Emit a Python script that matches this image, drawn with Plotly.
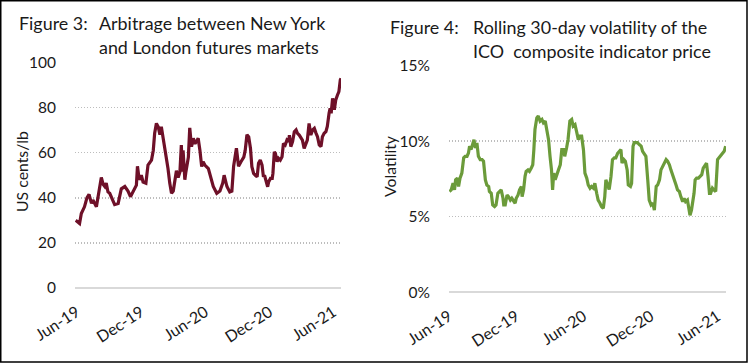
import plotly.graph_objects as go

W, H = 751, 364

# ---------------- data ----------------
arb_dates = [
    "2019-05-29", "2019-06-04", "2019-06-09", "2019-06-14", "2019-06-23", "2019-06-30", "2019-07-06",
    "2019-07-13", "2019-07-17", "2019-07-27", "2019-08-01", "2019-08-05", "2019-08-10", "2019-08-15",
    "2019-08-20", "2019-08-24", "2019-08-29", "2019-09-03", "2019-09-12", "2019-09-17", "2019-09-27",
    "2019-10-01", "2019-10-06", "2019-10-16", "2019-10-25", "2019-11-01", "2019-11-08", "2019-11-18",
    "2019-11-21", "2019-11-26", "2019-12-02", "2019-12-07", "2019-12-15", "2019-12-21", "2019-12-31",
    "2020-01-05", "2020-01-09", "2020-01-14", "2020-01-19", "2020-01-24", "2020-01-28", "2020-02-02",
    "2020-02-07", "2020-02-12", "2020-02-16", "2020-02-21", "2020-02-26", "2020-03-02", "2020-03-06",
    "2020-03-11", "2020-03-16", "2020-03-21", "2020-03-25", "2020-03-28", "2020-03-30", "2020-04-04",
    "2020-04-07", "2020-04-14", "2020-04-18", "2020-04-23", "2020-04-28", "2020-05-03", "2020-05-07",
    "2020-05-12", "2020-05-17", "2020-05-22", "2020-05-26", "2020-05-31", "2020-06-10", "2020-06-17",
    "2020-06-24", "2020-07-04", "2020-07-13", "2020-07-21", "2020-07-25", "2020-08-02", "2020-08-10",
    "2020-08-16", "2020-08-21", "2020-08-29", "2020-09-04", "2020-09-11", "2020-09-19", "2020-09-23",
    "2020-09-28", "2020-10-03", "2020-10-08", "2020-10-12", "2020-10-17", "2020-10-22", "2020-10-27",
    "2020-10-31", "2020-11-05", "2020-11-10", "2020-11-14", "2020-11-17", "2020-11-21", "2020-11-26",
    "2020-11-29", "2020-12-04", "2020-12-09", "2020-12-11", "2020-12-15", "2020-12-18", "2020-12-23",
    "2020-12-27", "2021-01-01", "2021-01-06", "2021-01-10", "2021-01-15", "2021-01-20", "2021-01-25",
    "2021-01-27", "2021-01-31", "2021-02-05", "2021-02-10", "2021-02-15", "2021-02-19", "2021-02-24",
    "2021-03-01", "2021-03-05", "2021-03-10", "2021-03-15", "2021-03-19", "2021-03-24", "2021-03-29",
    "2021-04-03", "2021-04-08", "2021-04-13", "2021-04-17", "2021-04-22", "2021-04-27", "2021-05-01",
    "2021-05-06", "2021-05-11", "2021-05-15", "2021-05-20", "2021-05-23", "2021-05-26", "2021-05-30",
    "2021-06-04", "2021-06-08", "2021-06-13", "2021-06-17", "2021-06-21", "2021-06-23",
]
arb_values = [
    30, 29, 28.6, 33, 36, 40, 41.5,
    37.5, 39, 36, 40, 45, 49, 46,
    45, 46.5, 42.6, 42, 39, 37, 37.5,
    40, 44, 45, 43, 40.5, 42.6, 45.6,
    54, 48, 50, 47, 46.5, 54.5, 56.7,
    61, 68.6, 73, 71.5, 68, 71.5, 67,
    62.7, 56.7, 53, 46.5, 42, 43, 47,
    52, 49, 51.5, 63.4, 51.6, 61, 48,
    51.5, 58, 71, 62.7, 66.4, 64, 65,
    66.4, 61, 53.8, 56, 54.5, 53, 49,
    45, 42, 43, 46.5, 50, 45, 42.6,
    43, 54, 62, 54, 56, 58, 61,
    68, 67, 62, 53.8, 50.8, 50, 49.3,
    55.3, 56.7, 54.5, 49.3, 50, 47.1, 44.9,
    47.1, 48.6, 48.6, 50.8, 60.4, 59.7, 56,
    57.5, 56.7, 58.2, 64.1, 63.4, 65.6, 64.9,
    67.8, 62.7, 64.9, 69.3, 70.1, 68.6, 67.8,
    66.4, 65.6, 61.9, 64.1, 65.6, 73, 67.8,
    70.1, 70.8, 68.6, 67.1, 63.4, 62.7, 67.1,
    68.6, 69.3, 71.6, 77.5, 79.7, 77.5, 84.1,
    79, 83.4, 85.6, 87.1, 92.3, 93,
]

vol_dates = [
    "2019-06-02", "2019-06-07", "2019-06-12", "2019-06-16", "2019-06-19", "2019-06-24", "2019-06-27",
    "2019-07-01", "2019-07-06", "2019-07-11", "2019-07-15", "2019-07-20", "2019-07-24", "2019-07-27",
    "2019-07-31", "2019-08-05", "2019-08-08", "2019-08-12", "2019-08-16", "2019-08-20", "2019-08-25",
    "2019-08-30", "2019-09-03", "2019-09-08", "2019-09-12", "2019-09-17", "2019-09-19", "2019-09-24",
    "2019-09-28", "2019-10-03", "2019-10-07", "2019-10-12", "2019-10-16", "2019-10-21", "2019-10-26",
    "2019-10-28", "2019-11-01", "2019-11-06", "2019-11-10", "2019-11-15", "2019-11-19", "2019-11-24",
    "2019-11-28", "2019-12-01", "2019-12-06", "2019-12-10", "2019-12-15", "2019-12-17", "2019-12-21",
    "2019-12-25", "2019-12-28", "2020-01-02", "2020-01-06", "2020-01-11", "2020-01-15", "2020-01-18",
    "2020-01-21", "2020-01-26", "2020-01-30", "2020-02-04", "2020-02-09", "2020-02-13", "2020-02-18",
    "2020-02-22", "2020-02-27", "2020-03-02", "2020-03-06", "2020-03-09", "2020-03-12", "2020-03-16",
    "2020-03-21", "2020-03-25", "2020-03-30", "2020-04-03", "2020-04-08", "2020-04-11", "2020-04-16",
    "2020-04-20", "2020-04-25", "2020-04-30", "2020-05-04", "2020-05-09", "2020-05-13", "2020-05-18",
    "2020-05-22", "2020-05-27", "2020-06-01", "2020-06-05", "2020-06-10", "2020-06-14", "2020-06-19",
    "2020-06-23", "2020-06-28", "2020-07-02", "2020-07-07", "2020-07-11", "2020-07-16", "2020-07-20",
    "2020-07-25", "2020-07-29", "2020-08-01", "2020-08-06", "2020-08-10", "2020-08-15", "2020-08-19",
    "2020-08-24", "2020-08-28", "2020-09-02", "2020-09-07", "2020-09-11", "2020-09-14", "2020-09-19",
    "2020-09-23", "2020-09-28", "2020-10-01", "2020-10-07", "2020-10-10", "2020-10-14", "2020-10-17",
    "2020-10-22", "2020-10-26", "2020-10-31", "2020-11-05", "2020-11-09", "2020-11-14", "2020-11-18",
    "2020-11-23", "2020-11-27", "2020-12-02", "2020-12-07", "2020-12-11", "2020-12-16", "2020-12-20",
    "2020-12-25", "2020-12-29", "2021-01-03", "2021-01-07", "2021-01-12", "2021-01-16", "2021-01-21",
    "2021-01-25", "2021-01-30", "2021-02-03", "2021-02-08", "2021-02-12", "2021-02-17", "2021-02-21",
    "2021-02-26", "2021-03-02", "2021-03-06", "2021-03-11", "2021-03-15", "2021-03-18", "2021-03-22",
    "2021-03-25", "2021-03-29", "2021-04-01", "2021-04-05", "2021-04-10", "2021-04-14", "2021-04-19",
    "2021-04-23", "2021-04-28", "2021-05-02", "2021-05-06", "2021-05-10", "2021-05-13", "2021-05-18",
    "2021-05-22", "2021-05-27", "2021-06-01", "2021-06-05", "2021-06-10", "2021-06-15", "2021-06-19",
    "2021-06-23",
]
vol_values = [
    6.67, 6.78, 7.22, 6.78, 7.44, 7.55, 7.0,
    7.55, 7.89, 8.9, 9.0, 9.0, 9.22, 9.67,
    9.44, 9.78, 10.1, 9.55, 9.89, 9.0, 8.78,
    8.78, 8.67, 7.44, 7.1, 7.0, 6.67, 6.55,
    5.78, 5.67, 5.78, 6.55, 6.67, 6.78, 6.22,
    5.78, 5.78, 6.44, 6.33, 6.1, 6.22, 6.0,
    5.89, 6.22, 6.44, 6.78, 7.0, 6.33, 6.78,
    7.67, 8.0, 8.1, 8.0, 8.22, 8.44, 9.44,
    10.78, 11.55, 11.67, 11.33, 11.44, 11.22, 11.33,
    10.78, 10.1, 9.0, 8.1, 6.78, 7.89, 7.44,
    7.89, 8.1, 8.44, 9.44, 9.44, 9.0, 9.55,
    10.1, 11.33, 11.44, 11.0, 11.1, 10.67, 10.1,
    10.33, 10.33, 9.44, 7.89, 7.55, 7.1, 6.89,
    7.0, 6.89, 7.22, 6.55, 6.1, 5.89, 5.67,
    5.55, 6.33, 7.44, 7.0, 6.8, 7.67, 8.78,
    8.9, 8.9, 9.2, 9.33, 9.44, 8.55, 8.78,
    8.67, 8.1, 7.1, 7.0, 7.2, 9.67, 9.9,
    9.9, 9.9, 9.78, 9.67, 9.33, 9.1, 9.0,
    7.44, 6.1, 5.78, 5.9, 5.44, 7.0, 7.1,
    7.44, 8.1, 8.33, 8.44, 8.78, 8.67, 8.44,
    8.1, 7.78, 7.44, 7.1, 6.78, 6.67, 6.33,
    6.0, 6.22, 6.0, 6.1, 5.55, 5.1, 5.44,
    5.9, 6.55, 7.44, 7.55, 7.55, 7.67, 7.78,
    8.22, 8.44, 8.55, 7.67, 6.55, 6.55, 6.89,
    6.78, 6.67, 8.78, 8.9, 9.0, 9.22, 9.33,
    9.67,
]

left_ticks = [0, 20, 40, 60, 80, 100]
right_ticks = [0, 5, 10, 15]
right_tick_labels = ["0%", "5%", "10%", "15%"]

MAROON = "#6e1028"
GREEN = "#6b9b3a"
TXT = "#1a1a1a"
FONT = "Lato"

def px_x(v):
    return v / W

def px_y(v):
    return 1 - v / H

fig = go.Figure()
fig.add_trace(go.Scatter(x=arb_dates, y=arb_values, mode="lines",
                         line=dict(color=MAROON, width=3.2), xaxis="x", yaxis="y",
                         showlegend=False, hoverinfo="skip"))
fig.add_trace(go.Scatter(x=vol_dates, y=vol_values, mode="lines",
                         line=dict(color=GREEN, width=3.2), xaxis="x2", yaxis="y2",
                         showlegend=False, hoverinfo="skip"))

xcommon = dict(type="date", tick0="2019-06-01", dtick="M6", tickformat="%b-%y",
               tickangle=-33, showgrid=False, zeroline=False, showline=False,
               ticks="", tickfont=dict(family=FONT, size=16, color=TXT),
               ticklabelstandoff=11, fixedrange=True, automargin=False)
ycommon = dict(showgrid=True, gridcolor="#bdbdbd", gridwidth=1.5, griddash="1px,2px",
               zeroline=True, zerolinecolor="#d9d9d9", zerolinewidth=2,
               showline=False, ticks="", tickfont=dict(family=FONT, size=15.5, color=TXT),
               ticklabelstandoff=18, fixedrange=True, automargin=False)

fig.update_layout(
    width=W, height=H,
    margin=dict(l=0, r=0, t=0, b=0, autoexpand=False),
    paper_bgcolor="white", plot_bgcolor="white",
    xaxis=dict(domain=[px_x(75), px_x(341)], anchor="y",
               range=["2019-05-27", "2021-06-23"], **xcommon),
    yaxis=dict(domain=[px_y(288), px_y(62.5)], anchor="x", range=[0, 100],
               tickvals=left_ticks, **ycommon),
    xaxis2=dict(domain=[px_x(449), px_x(726)], anchor="y2",
                range=["2019-06-01", "2021-06-24"], **xcommon),
    yaxis2=dict(domain=[px_y(292.2), px_y(65.7)], anchor="x2", range=[0, 15],
                tickvals=right_ticks, ticktext=right_tick_labels, **ycommon),
)

def ann(text, x, y, size=17.9, angle=0, xanchor="left"):
    fig.add_annotation(text=text, x=px_x(x), y=px_y(y), xref="paper", yref="paper",
                       xanchor=xanchor, yanchor="middle", showarrow=False, textangle=angle,
                       font=dict(family=FONT, size=size, color=TXT))

ann("Figure 3:", 17, 23)
ann("Arbitrage between New York", 97, 23)
ann("and London futures markets", 97, 46.7)
ann("Figure 4:", 388, 27)
ann("Rolling 30-day volatility of the", 471, 27)
ann("ICO\u00a0 composite indicator price", 471, 51)
ann("US cents/lb", 21, 172, size=15.8, angle=-90, xanchor="center")
ann("Volatility", 390, 166, size=15.8, angle=-90, xanchor="center")

fig.add_shape(type="rect", xref="paper", yref="paper",
              x0=px_x(0.75), x1=px_x(747), y0=px_y(362), y1=px_y(0.75),
              line=dict(color="black", width=1.5), fillcolor="rgba(0,0,0,0)")

fig.write_html("out.html", config={"displayModeBar": False, "staticPlot": True},
               post_script="document.body.style.margin='0';document.body.style.overflow='hidden';")
